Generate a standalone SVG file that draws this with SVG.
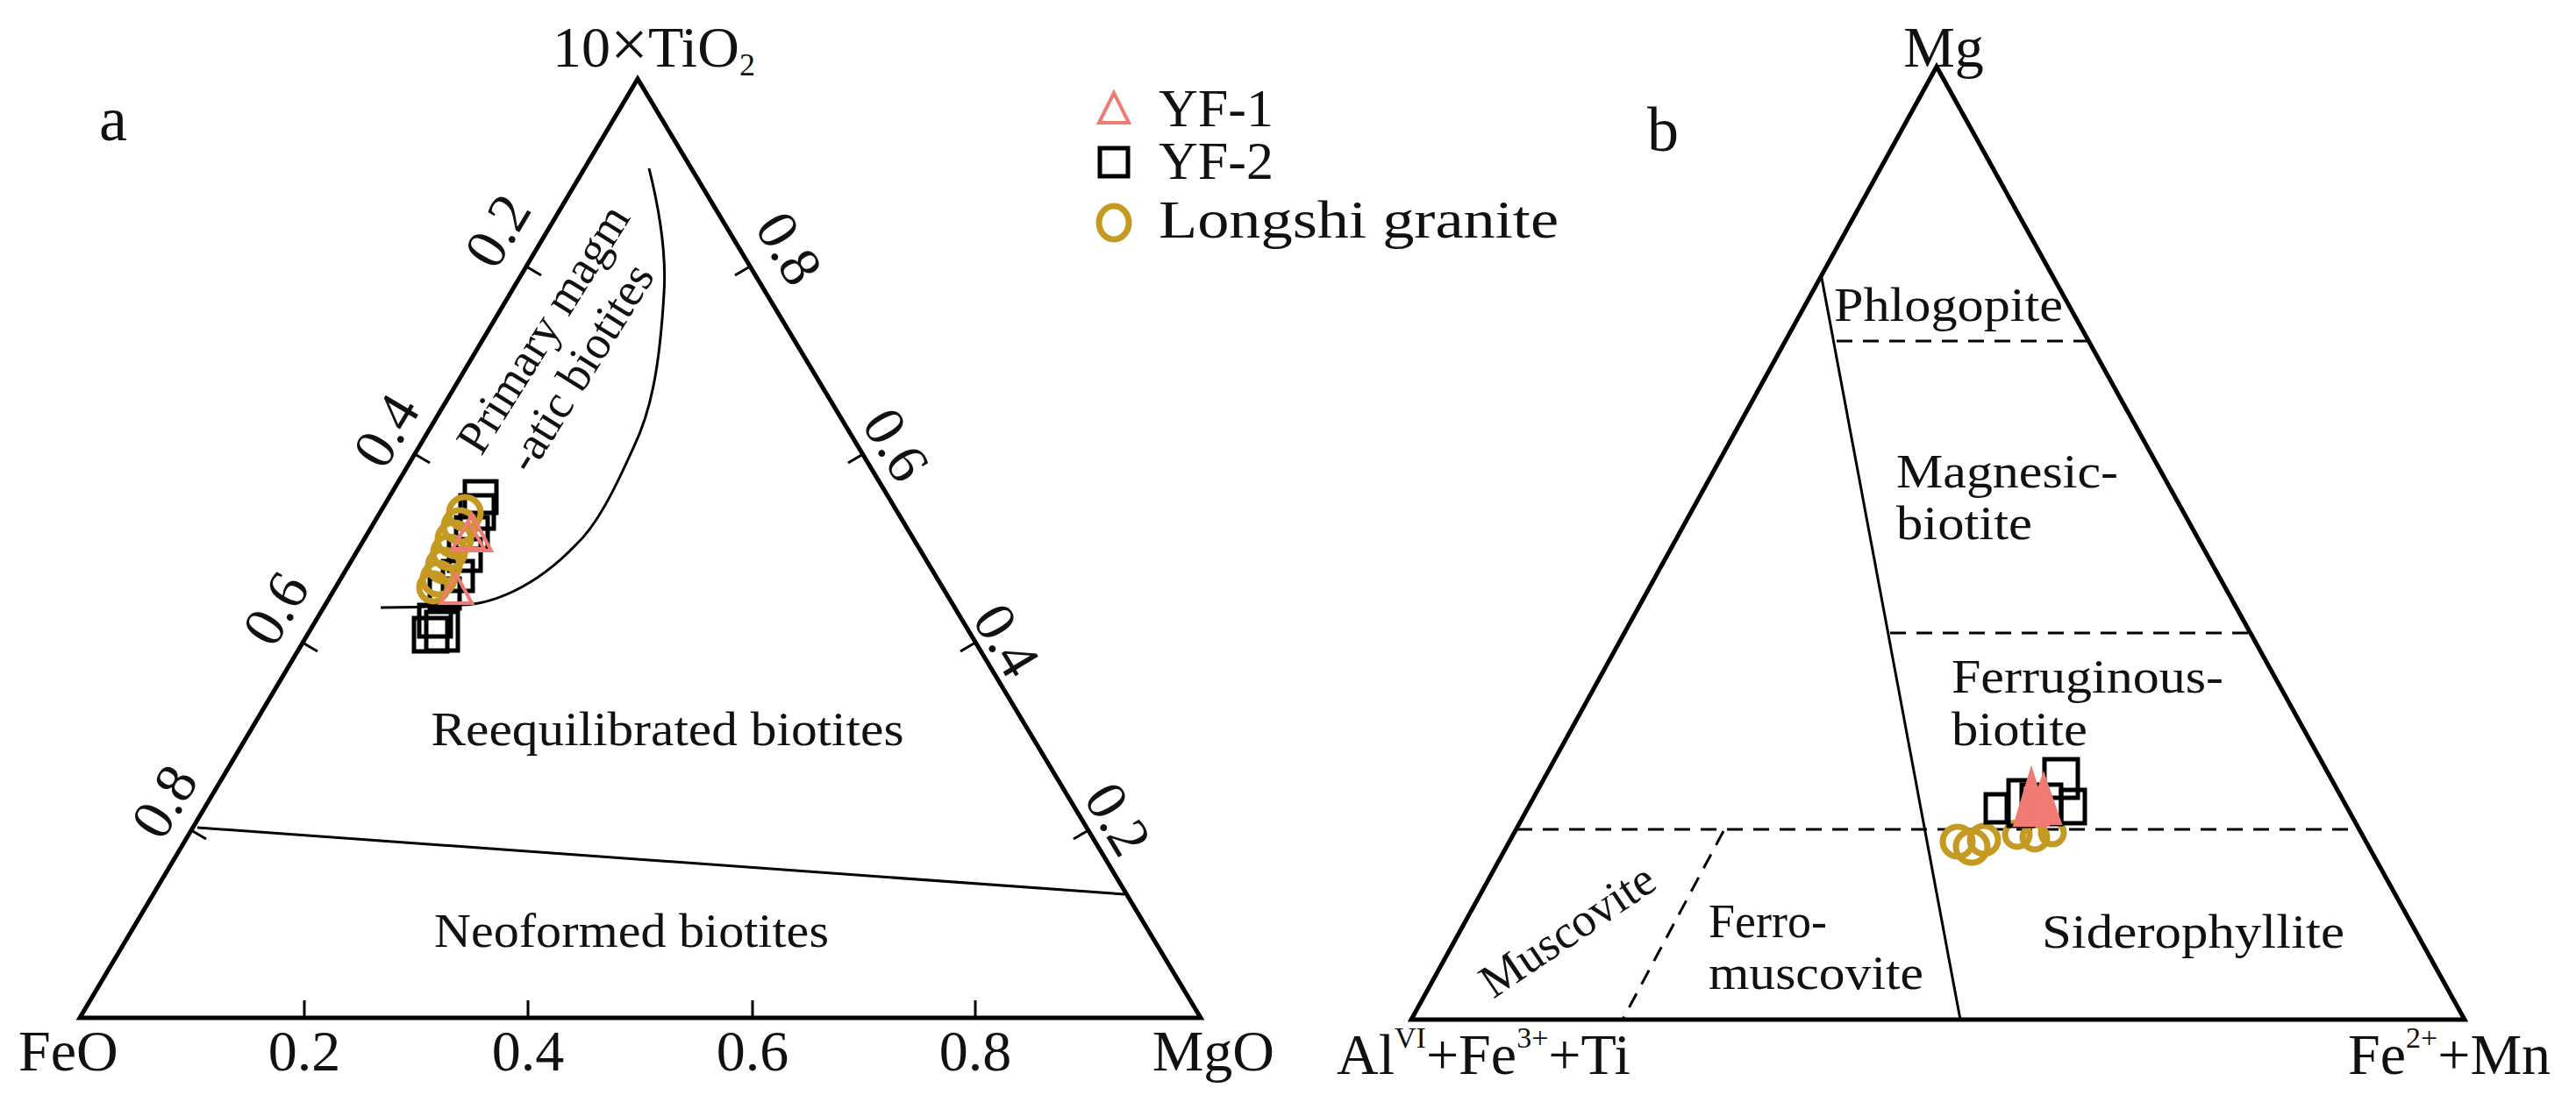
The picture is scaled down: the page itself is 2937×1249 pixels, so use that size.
<svg xmlns="http://www.w3.org/2000/svg" width="2937" height="1249" viewBox="0 0 2937 1249">
<style>
text{font-family:"Liberation Serif","Times New Roman",serif;fill:#111}
.edge{fill:none;stroke:#000;stroke-width:5;stroke-linejoin:miter}
.ln{fill:none;stroke:#000;stroke-width:3}
.dash{fill:none;stroke:#000;stroke-width:3;stroke-dasharray:18 12}
.tick{stroke:#000;stroke-width:3}
.t{font-size:66px}
.lab{font-size:54px}
.big{font-size:72px}
.leg{font-size:62px}
.sq{fill:none;stroke:#000;stroke-width:5}
.ci{fill:none;stroke:#C49A22;stroke-width:7}
.tr{fill:none;stroke:#F07B72;stroke-width:4}
</style>
<rect width="2937" height="1249" fill="#fff"/>
<g id="plot-a">
<polygon class="edge" points="727,90 91,1161 1369,1161"/>
<g id="ticks-a">
<line class="tick" x1="347" y1="1161" x2="347" y2="1141"/>
<line class="tick" x1="602" y1="1161" x2="602" y2="1141"/>
<line class="tick" x1="858" y1="1161" x2="858" y2="1141"/>
<line class="tick" x1="1112" y1="1161" x2="1112" y2="1141"/>
<line class="tick" x1="600" y1="304" x2="617" y2="314"/>
<line class="tick" x1="473" y1="518" x2="490" y2="528"/>
<line class="tick" x1="345" y1="733" x2="362" y2="743"/>
<line class="tick" x1="218" y1="947" x2="235" y2="957"/>
<line class="tick" x1="855" y1="304" x2="838" y2="314"/>
<line class="tick" x1="984" y1="518" x2="967" y2="528"/>
<line class="tick" x1="1112" y1="733" x2="1095" y2="743"/>
<line class="tick" x1="1241" y1="947" x2="1224" y2="957"/>
</g>
<text class="t" x="347" y="1221" text-anchor="middle">0.2</text>
<text class="t" x="602" y="1221" text-anchor="middle">0.4</text>
<text class="t" x="858" y="1221" text-anchor="middle">0.6</text>
<text class="t" x="1112" y="1221" text-anchor="middle">0.8</text>
<text class="t" x="21" y="1221">FeO</text>
<text class="t" x="1453" y="1221" text-anchor="end">MgO</text>
<text class="t" transform="translate(567,263) rotate(-59)" text-anchor="middle" dominant-baseline="central">0.2</text>
<text class="t" transform="translate(440,491) rotate(-59)" text-anchor="middle" dominant-baseline="central">0.4</text>
<text class="t" transform="translate(314,694) rotate(-59)" text-anchor="middle" dominant-baseline="central">0.6</text>
<text class="t" transform="translate(187,914) rotate(-59)" text-anchor="middle" dominant-baseline="central">0.8</text>
<text class="t" transform="translate(900,283) rotate(59)" text-anchor="middle" dominant-baseline="central">0.8</text>
<text class="t" transform="translate(1022,507) rotate(59)" text-anchor="middle" dominant-baseline="central">0.6</text>
<text class="t" transform="translate(1148,730) rotate(59)" text-anchor="middle" dominant-baseline="central">0.4</text>
<text class="t" transform="translate(1275,934) rotate(59)" text-anchor="middle" dominant-baseline="central">0.2</text>
<text class="t" x="630" y="76">10<tspan font-size="76">×</tspan>TiO<tspan font-size="36" dy="10">2</tspan></text>
<text class="big" x="113" y="160">a</text>
<path class="ln" d="M740,192 C752,240 760,290 757,335 C752,420 742,470 722,511 C700,560 680,600 656,622 C610,670 560,690 525,690 C490,693 460,693 434,693"/>
<line class="ln" x1="225" y1="944" x2="1282" y2="1020"/>
<text class="lab" transform="translate(619,375) rotate(-58)" text-anchor="middle" dominant-baseline="central">Primary magm</text>
<text class="lab" transform="translate(661,419) rotate(-58)" text-anchor="middle" dominant-baseline="central">-atic biotites</text>
<text class="lab" x="761" y="850" text-anchor="middle" textLength="539" lengthAdjust="spacingAndGlyphs">Reequilibrated biotites</text>
<text class="lab" x="720" y="1080" text-anchor="middle" textLength="450" lengthAdjust="spacingAndGlyphs">Neoformed biotites</text>
<g id="data-a">
<rect class="sq" x="530" y="549" width="36" height="36"/>
<rect class="sq" x="525" y="565" width="38" height="38"/>
<rect class="sq" x="520" y="590" width="36" height="36"/>
<rect class="sq" x="512" y="615" width="36" height="36"/>
<rect class="sq" x="505" y="640" width="34" height="34"/>
<rect class="sq" x="490" y="660" width="34" height="34"/>
<rect class="sq" x="478" y="690" width="36" height="36"/>
<rect class="sq" x="472" y="705" width="38" height="38"/>
<rect class="sq" x="486" y="698" width="36" height="44"/>
<circle class="ci" cx="530" cy="585" r="18"/>
<circle class="ci" cx="524" cy="600" r="18"/>
<circle class="ci" cx="518" cy="615" r="19"/>
<circle class="ci" cx="512" cy="630" r="18"/>
<circle class="ci" cx="506" cy="645" r="18"/>
<circle class="ci" cx="500" cy="660" r="18"/>
<circle class="ci" cx="494" cy="670" r="16"/>
<polygon class="tr" points="538,587 515,628 560,628"/>
<polygon class="tr" points="534,595 516,626 552,626"/>
<polygon class="tr" points="520,655 502,688 538,688"/>
</g>
</g>
<g id="legend">
<polygon class="tr" points="1270,106 1253,140 1287,140"/>
<rect class="sq" x="1254" y="169" width="32" height="32" stroke-width="4"/>
<ellipse class="ci" cx="1270" cy="254" rx="17" ry="19" stroke-width="4"/>
<text class="leg" x="1321" y="144">YF-1</text>
<text class="leg" x="1321" y="204">YF-2</text>
<text class="leg" x="1321" y="271" textLength="456" lengthAdjust="spacingAndGlyphs">Longshi granite</text>
</g>
<g id="plot-b">
<polygon class="edge" points="2208,76 1609,1163 2810,1163"/>
<line class="ln" x1="2077" y1="317" x2="2235" y2="1163"/>
<line class="dash" x1="2094" y1="389" x2="2382" y2="389"/>
<line class="dash" x1="2155" y1="722" x2="2565" y2="722"/>
<line class="dash" x1="1729" y1="946" x2="2691" y2="946"/>
<line class="dash" x1="1965" y1="948" x2="1850" y2="1163"/>
<text class="big" x="1878" y="172">b</text>
<text class="t" x="2216" y="76" text-anchor="middle">Mg</text>
<text class="t" x="1524" y="1225">Al<tspan font-size="34" dy="-30">VI</tspan><tspan dy="30">+Fe</tspan><tspan font-size="34" dy="-30">3+</tspan><tspan dy="30">+Ti</tspan></text>
<text class="t" x="2677" y="1225">Fe<tspan font-size="34" dy="-30">2+</tspan><tspan dy="30">+Mn</tspan></text>
<text class="lab" x="2091" y="366" textLength="261" lengthAdjust="spacingAndGlyphs">Phlogopite</text>
<text class="lab" x="2162" y="556" textLength="253" lengthAdjust="spacingAndGlyphs">Magnesic-</text>
<text class="lab" x="2162" y="615" textLength="155" lengthAdjust="spacingAndGlyphs">biotite</text>
<text class="lab" x="2225" y="790" textLength="310" lengthAdjust="spacingAndGlyphs">Ferruginous-</text>
<text class="lab" x="2225" y="850" textLength="155" lengthAdjust="spacingAndGlyphs">biotite</text>
<text class="lab" x="1948" y="1069">Ferro-</text>
<text class="lab" x="1948" y="1128" textLength="245" lengthAdjust="spacingAndGlyphs">muscovite</text>
<text class="lab" x="2328" y="1081" textLength="345" lengthAdjust="spacingAndGlyphs">Siderophyllite</text>
<text class="lab" transform="translate(1787,1061) rotate(-34)" text-anchor="middle" dominant-baseline="central">Muscovite</text>
<g id="data-b">
<circle class="ci" cx="2232" cy="960" r="17"/>
<circle class="ci" cx="2248" cy="966" r="18"/>
<circle class="ci" cx="2262" cy="958" r="16"/>
<circle class="ci" cx="2300" cy="952" r="14"/>
<circle class="ci" cx="2320" cy="955" r="14"/>
<circle class="ci" cx="2340" cy="950" r="13"/>
<rect class="sq" x="2264" y="906" width="24" height="32"/>
<rect class="sq" x="2290" y="890" width="28" height="52"/>
<rect class="sq" x="2331" y="866" width="38" height="44"/>
<rect class="sq" x="2350" y="901" width="27" height="38"/>
<rect class="sq" x="2305" y="895" width="45" height="45" fill="#000"/>
<polygon points="2316,876 2296,942 2336,942" fill="#F07B72" stroke="#F07B72" stroke-width="2"/>
<polygon points="2330,882 2310,940 2350,940" fill="#F07B72" stroke="#F07B72" stroke-width="2"/>
</g>
</g>
</svg>
